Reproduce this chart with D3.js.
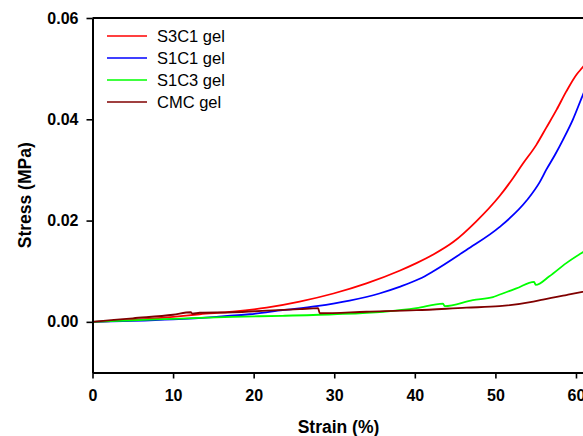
<!DOCTYPE html>
<html>
<head>
<meta charset="utf-8">
<script src="https://cdn.jsdelivr.net/npm/d3@7"></script>
<style>
  body { margin: 0; background: #fff; }
  svg { display: block; font-family: Arial, "Liberation Sans", sans-serif; }
</style>
</head>
<body>
<svg id="chart" width="583" height="436"></svg>
<script>
// --- data (strain %, stress MPa) ---
const seriesNames = ["S3C1 gel", "S1C1 gel", "S1C3 gel", "CMC gel"];
const seriesColors = ["#ff0000", "#0000ff", "#00ff00", "#800000"];

const s3c1 = [[0,0],[5,0.0004],[10,0.0010],[13.3,0.0015],[17.4,0.0020],[21.6,0.0028],[25.7,0.0040],
  [29.9,0.0056],[34.0,0.0076],[38.1,0.0101],[40.2,0.0116],[42.3,0.0133],[44.8,0.0158],[47.6,0.0198],
  [50.5,0.0248],[52.2,0.0284],[53.4,0.0312],[55.1,0.0350],[56.3,0.0383],[57.6,0.0419],[58.8,0.0455],
  [60.1,0.0489],[60.8,0.0502],[61.5,0.0516]];
const s1c1 = [[0,0],[5,0.0002],[10,0.0005],[15.4,0.0010],[19.5,0.0015],[23.6,0.0023],[27.8,0.0031],
  [31.9,0.0042],[35.6,0.0056],[38.1,0.0069],[40.6,0.0085],[42.3,0.0100],[46.4,0.0142],[50.5,0.0187],
  [53.9,0.0240],[55.5,0.0276],[56.3,0.0300],[57.4,0.0330],[58.4,0.0360],[59.6,0.0399],[60.8,0.0446],
  [61.5,0.0472]];
const s1c3 = [[0,0],[5,0.0003],[10,0.0006],[13.3,0.0008],[17.4,0.0010],[23.6,0.0012],[29.9,0.0015],
  [36.1,0.0020],[40.2,0.0027],[43.5,0.0036],[43.7,0.0031],[47.2,0.0043],[49.7,0.0049],[51.4,0.0059],
  [52.6,0.0066],[54.8,0.0079],[55.0,0.0073],[56.7,0.0090],[58.8,0.0116],[60.8,0.0137],[61.5,0.0144]];
const cmc = [[0,0],[5,0.0007],[10,0.0014],[12.2,0.0019],[12.4,0.0016],[13.3,0.0018],[17.4,0.0019],
  [21.6,0.0022],[25.7,0.0025],[28.0,0.0027],[28.2,0.0017],[34.0,0.0020],[40.2,0.0023],[46.4,0.0028],
  [50.5,0.0031],[54.7,0.0040],[55.9,0.0044],[58.8,0.0053],[60.8,0.0059],[61.5,0.0061]];
const seriesData = [s3c1, s1c1, s1c3, cmc];

const xTicks = [0, 10, 20, 30, 40, 50, 60];
const yTicks = [0.00, 0.02, 0.04, 0.06];

// --- layout ---
const svg = d3.select("#chart");
const plotLeft = 92.5, plotTop = 18, plotBottom = 372.5;

const x = d3.scaleLinear().domain([0, 62]).range([plotLeft, plotLeft + 62 * 8.058]);
const y = d3.scaleLinear().domain([-0.01, 0.06]).range([plotBottom, plotTop]);

// curves
const line = d3.line().curve(d3.curveMonotoneX).x(d => x(d[0])).y(d => y(d[1]));
svg.append("g")
  .selectAll("path")
  .data(seriesData)
  .enter().append("path")
  .attr("d", line)
  .attr("fill", "none")
  .attr("stroke", (d, i) => seriesColors[i])
  .attr("stroke-width", 1.8)
  .attr("stroke-linejoin", "round");

// axes
const xAxis = svg.append("g")
  .attr("transform", `translate(0,${plotBottom})`)
  .call(d3.axisBottom(x).tickValues(xTicks).tickFormat(d3.format("d")).tickSize(6).tickPadding(11).tickSizeOuter(0));
const yAxis = svg.append("g")
  .attr("transform", `translate(${plotLeft},0)`)
  .call(d3.axisLeft(y).tickValues(yTicks).tickFormat(d3.format(".2f")).tickSize(6).tickPadding(8).tickSizeOuter(0));

[xAxis, yAxis].forEach(a => {
  a.select(".domain").attr("stroke", "#000").attr("stroke-width", 2);
  a.selectAll(".tick line").attr("stroke", "#000").attr("stroke-width", 1.6);
  a.selectAll(".tick text")
    .attr("fill", "#000")
    .style("font-size", "16px")
    .style("font-weight", "bold")
    .style("font-family", "Arial, 'Liberation Sans', sans-serif");
});

// top frame line
svg.append("line")
  .attr("x1", plotLeft).attr("x2", 583)
  .attr("y1", plotTop).attr("y2", plotTop)
  .attr("stroke", "#000").attr("stroke-width", 2);

// axis titles
svg.append("text")
  .attr("x", 338.5).attr("y", 433)
  .attr("text-anchor", "middle")
  .style("font-size", "17.5px").style("font-weight", "bold")
  .text("Strain (%)");
svg.append("text")
  .attr("transform", `translate(31,${(plotTop + plotBottom) / 2}) rotate(-90)`)
  .attr("text-anchor", "middle")
  .style("font-size", "17.5px").style("font-weight", "bold")
  .text("Stress (MPa)");

// legend
const legend = svg.append("g")
  .selectAll("g")
  .data(seriesNames)
  .enter().append("g")
  .attr("transform", (d, i) => `translate(107,${36 + i * 22})`);
legend.append("line")
  .attr("x1", 0).attr("x2", 40)
  .attr("stroke", (d, i) => seriesColors[i])
  .attr("stroke-width", 1.6);
legend.append("text")
  .attr("x", 50).attr("y", 6)
  .style("font-size", "16.5px")
  .text(d => d);
</script>
</body>
</html>
